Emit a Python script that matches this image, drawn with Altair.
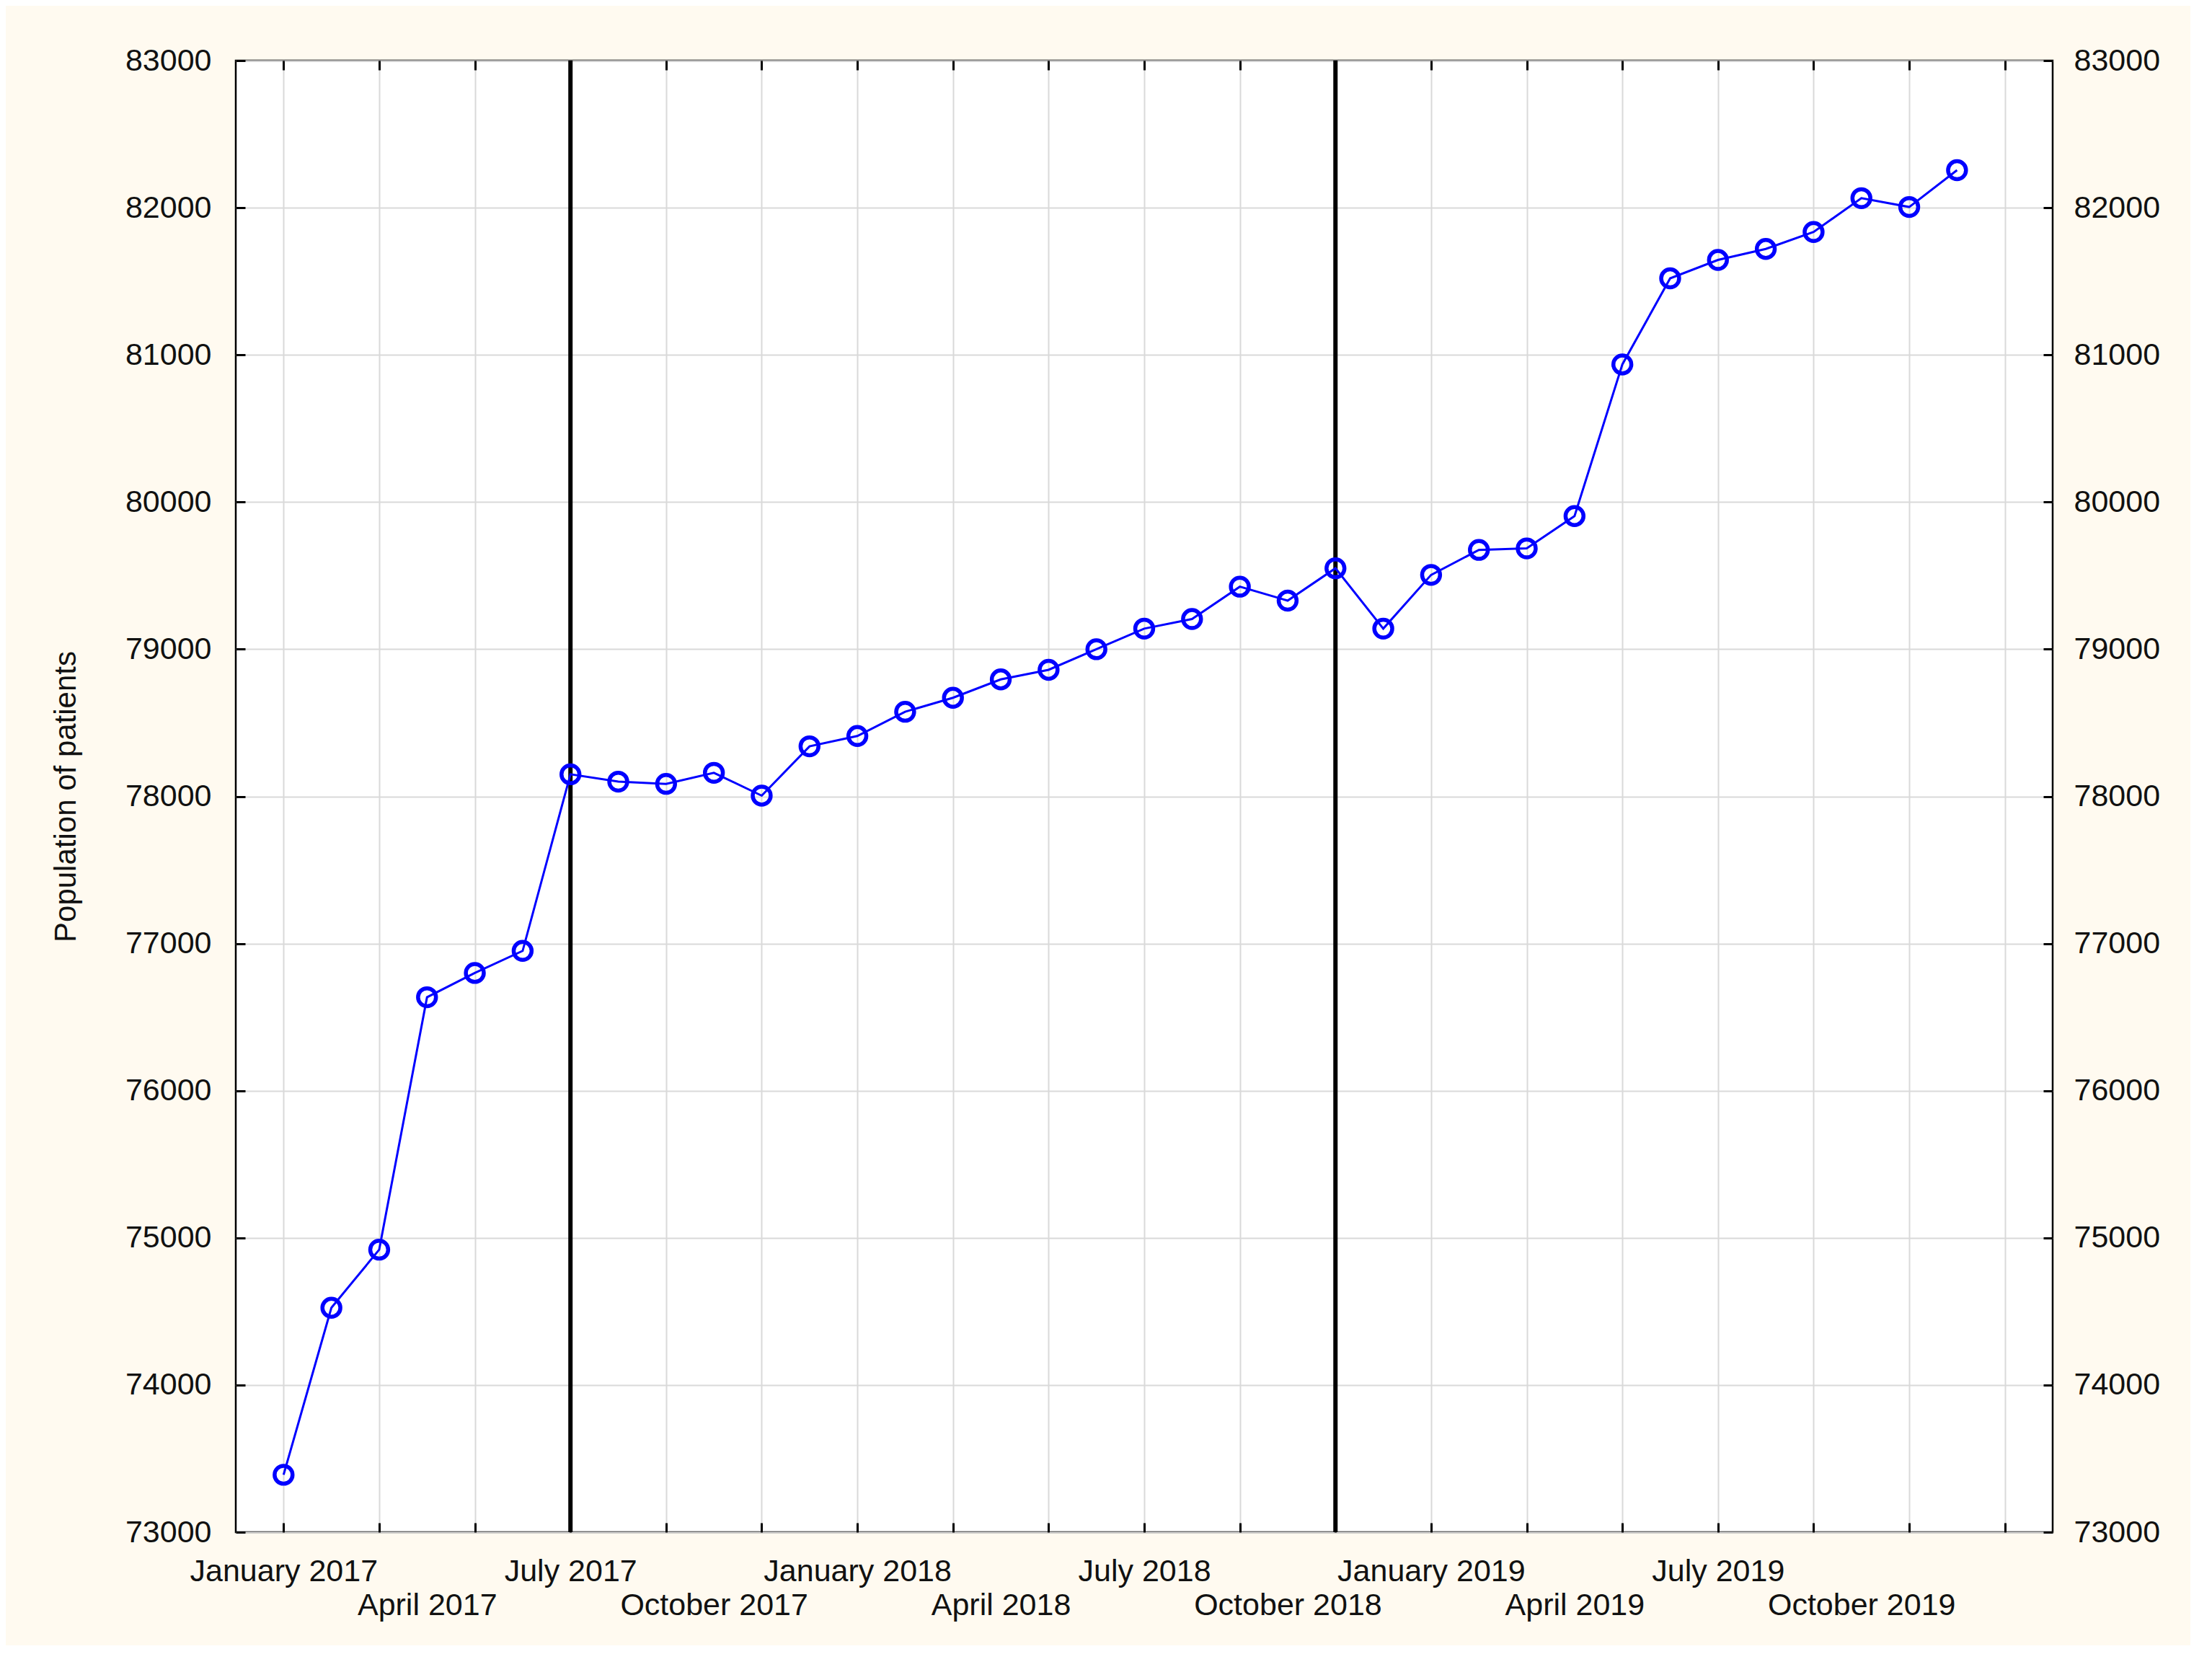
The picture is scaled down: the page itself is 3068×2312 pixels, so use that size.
import altair as alt
import pandas as pd

# ---- data ----
month_index = list(range(36))  # January 2017 ... December 2019
patients = [73390, 74525, 74920, 76635, 76800, 76950,
            78150, 78100, 78085, 78160, 78005, 78340,
            78410, 78575, 78670, 78795, 78860, 79000,
            79140, 79205, 79425, 79330, 79550, 79140,
            79505, 79675, 79685, 79905, 80935, 81520,
            81645, 81720, 81835, 82065, 82005, 82255]
tick_labels = ["January 2017", "April 2017", "July 2017", "October 2017",
               "January 2018", "April 2018", "July 2018", "October 2018",
               "January 2019", "April 2019", "July 2019", "October 2019"]
interventions = [6, 22]  # July 2017, November 2018
y_ticks = list(range(73000, 83001, 1000))
x_grid = list(range(0, 37, 2))

df = pd.DataFrame({"idx": month_index, "patients": patients})
rules_df = pd.DataFrame({"idx": interventions})

FONT = "Liberation Sans"
FS = 43
W, H = 2520, 2041
TXT = "#111111"

label_js = "[" + ",".join(f"'{t}'" for t in tick_labels) + "]"
label_expr = (f"(datum.value % 3 == 0 && datum.value / 3 < {len(tick_labels)}) "
              f"? {label_js}[datum.value / 3] : ''")
x_values = sorted(set(x_grid) | set(range(0, 3 * len(tick_labels), 3)))

xscale = alt.Scale(domain=[-1, 37], nice=False, zero=False)
yscale = alt.Scale(domain=[73000, 83000], nice=False, zero=False)

X = alt.X(
    "idx:Q",
    scale=xscale,
    axis=alt.Axis(
        values=x_values,
        labelExpr=label_expr,
        grid=True,
        gridColor="#d9d9d9",
        gridWidth=2,
        gridOpacity={"condition": {"test": "datum.value % 2 == 0", "value": 1}, "value": 0},
        ticks=False,
        tickSize=0,
        domain=False,
        labelFont=FONT,
        labelFontSize=FS,
        labelColor=TXT,
        labelAngle=0,
        labelAlign="center",
        labelBaseline="top",
        labelOverlap=False,
        labelFlush=False,
        labelLimit=0,
        labelPadding={"condition": {"test": "datum.value % 6 == 3", "value": 80}, "value": 33},
        title=None,
    ),
)

Y_left = alt.Y(
    "patients:Q",
    scale=yscale,
    axis=alt.Axis(
        values=y_ticks,
        grid=True,
        gridColor="#d9d9d9",
        gridWidth=2,
        ticks=False,
        tickSize=0,
        domain=False,
        format="d",
        labelFont=FONT,
        labelFontSize=FS,
        labelColor=TXT,
        labelPadding=34,
        labelLimit=0,
        title="Population of patients",
        titleFont=FONT,
        titleFontSize=42,
        titleFontWeight="normal",
        titleColor=TXT,
        titlePadding=60,
    ),
)

Y_right = alt.Y(
    "patients:Q",
    scale=yscale,
    axis=alt.Axis(
        orient="right",
        values=y_ticks,
        grid=False,
        ticks=False,
        tickSize=0,
        domain=False,
        format="d",
        labelFont=FONT,
        labelFontSize=FS,
        labelColor=TXT,
        labelPadding=29,
        labelLimit=0,
        title=None,
    ),
)


def tick_axis(orient, offset, values):
    # an axis used only for its short inward-pointing ticks
    return alt.Axis(
        orient=orient, offset=offset, values=values, labels=False, domain=False,
        grid=False, ticks=True, tickSize=13, tickWidth=3, tickColor="black", title=None,
    )


X_none = alt.X("idx:Q", scale=xscale, axis=None)
Y_none = alt.Y("patients:Q", scale=yscale, axis=None)

rules = alt.Chart(rules_df).mark_rule(color="black", strokeWidth=6).encode(x=X)
line = alt.Chart(df).mark_line(color="#0000ff", strokeWidth=3).encode(x=X, y=Y_left)
points = alt.Chart(df).mark_point(
    shape="circle", filled=False, color="#0000ff", strokeWidth=5.5, size=620, opacity=1
).encode(x=X, y=Y_left)

main = alt.layer(rules, line, points)
right = alt.Chart(df).mark_point(opacity=0).encode(x=X_none, y=Y_right)

ticks_left = alt.Chart(df).mark_point(opacity=0).encode(
    x=X_none, y=alt.Y("patients:Q", scale=yscale, axis=tick_axis("right", -W, y_ticks)))
ticks_right = alt.Chart(df).mark_point(opacity=0).encode(
    x=X_none, y=alt.Y("patients:Q", scale=yscale, axis=tick_axis("left", -W, y_ticks)))
ticks_bottom = alt.Chart(df).mark_point(opacity=0).encode(
    y=Y_none, x=alt.X("idx:Q", scale=xscale, axis=tick_axis("top", -H, x_grid)))
ticks_top = alt.Chart(df).mark_point(opacity=0).encode(
    y=Y_none, x=alt.X("idx:Q", scale=xscale, axis=tick_axis("bottom", -H, x_grid)))

chart = (
    alt.layer(main, right, ticks_left, ticks_right, ticks_bottom, ticks_top)
    .resolve_scale(x="independent", y="independent")
    .properties(
        width=W,
        height=H,
        autosize=alt.AutoSizeParams(type="none"),
        padding={"left": 319, "top": 76, "right": 191, "bottom": 157},
        background="#fffaf0",
    )
    .configure_view(fill="white", stroke="black", strokeWidth=2.5)
)

chart.save("out.html", embed_options={"renderer": "svg", "actions": False})
